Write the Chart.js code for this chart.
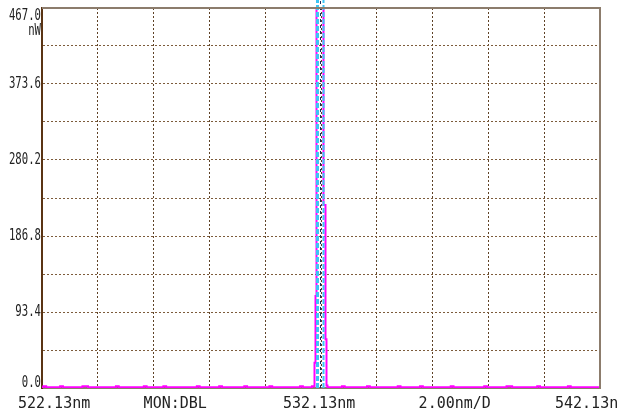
<!DOCTYPE html>
<html><head><meta charset="utf-8">
<script src="https://cdn.jsdelivr.net/npm/chart.js@4/dist/chart.umd.min.js"></script>
<style>html,body{margin:0;padding:0;background:#fff;}#wrap{width:619px;height:415px;position:relative;}</style>
</head><body><div id="wrap"><canvas id="c" width="619" height="415"></canvas></div>
<script>
// ---- data ----
const wlStart = 522.13, wlEnd = 542.13, nmPerDiv = 2.00;
const yMax = 467.0, yPerDiv = 46.7;
const yTickLabels = ['467.0', '373.6', '280.2', '186.8', '93.4', '0.0'];
const yUnit = 'nW';
const xLabels = ['522.13nm', 'MON:DBL', '532.13nm', '2.00nm/D', '542.13nm'];
const floorStep = 0.1;
const floorLeftStart = 522.13;
const floorLeft = [1,2,1,1,1,1,1,2,1,1,1,1,1,1,1,2,2,1,1,1,1,1,1,1,1,1,1,2,1,1,1,1,1,1,1,1,1,2,1,1,
                   1,1,1,1,2,1,1,1,1,1,1,1,1,1,1,1,2,1,1,1,1,1,1,1,2,1,1,1,1,1,1,1,1,2,1,1,1,1,1,1,
                   1,1,2,1,1,1,1,1,1,1,1,1,1,2,1,1,1];
const floorRightStart = 532.43;
const floorRight = [1,1,1,1,1,2,1,1,1,1,1,1,1,1,2,1,1,1,1,1,1,1,1,1,1,2,1,1,1,1,1,1,1,2,1,1,1,1,1,1,
                    1,1,1,1,2,1,1,1,1,1,1,1,1,1,1,1,2,1,1,1,1,1,1,1,2,2,1,1,1,1,1,1,1,1,1,2,1,1,1,1,
                    1,1,1,1,1,1,2,1,1,1,1,1,1,1,1,1,1,1];
const peakWl  = [531.879, 531.915, 531.951, 531.987, 532.02, 532.06, 532.10, 532.13, 532.166, 532.202, 532.237, 532.273, 532.309, 532.345, 532.38];
const peakVal = [2, 31, 113, 600, 600, 600, 600, 560, 600, 480, 225, 225, 60, 3, 1];
const markerCyan = [532.004, 532.22];
const markerBlue = 532.022;
const markerCenter = 532.112;

// ---- build ----
const trace = [];
floorLeft.forEach((v, i) => trace.push({x: floorLeftStart + i * floorStep, y: v}));
peakWl.forEach((w, i) => trace.push({x: w, y: peakVal[i]}));
floorRight.forEach((v, i) => trace.push({x: floorRightStart + i * floorStep, y: v}));

const vline = (x) => [{x: x, y: 0}, {x: x, y: yMax * 1.03}];

const xTicks = [];
for (let i = 0; i <= 10; i++) xTicks.push(wlStart + i * nmPerDiv);
const yTicks = [];
for (let i = 0; i <= 10; i++) yTicks.push(i * yPerDiv);

const textPlugin = {
  id: 'osaText',
  afterDraw(chart) {
    const ctx = chart.ctx, xs = chart.scales.x, ys = chart.scales.y, ca = chart.chartArea;
    ctx.save();
    ctx.strokeStyle = '#8c7c6c';
    ctx.lineWidth = 2;
    ctx.beginPath();
    ctx.moveTo(ca.left, ca.top); ctx.lineTo(ca.right, ca.top); ctx.lineTo(ca.right, ca.bottom);
    ctx.stroke();
    ctx.fillStyle = '#222';
    ctx.font = '15px "DejaVu Sans Mono"';
    ctx.textAlign = 'right';
    ctx.textBaseline = 'middle';
    yTickLabels.forEach((t, i) => {
      const v = yMax - i * 2 * yPerDiv;
      let py = ys.getPixelForValue(v);
      if (i === 0) py += 8;
      if (i === yTickLabels.length - 1) py -= 5;
      ctx.save();
      ctx.translate(ca.left - 1, py);
      ctx.scale(0.71, 1);
      ctx.fillText(t, 0, 0);
      if (i === 0) ctx.fillText(yUnit, 0, 15);
      ctx.restore();
    });
    ctx.font = '15px "DejaVu Sans Mono"';
    ctx.textAlign = 'left';
    ctx.textBaseline = 'alphabetic';
    const base = ca.bottom + 20;
    const pos = [xs.getPixelForValue(wlStart) - 24, xs.getPixelForValue(wlStart + 2 * nmPerDiv) - 10,
                 xs.getPixelForValue(wlStart + 5 * nmPerDiv) - 38, xs.getPixelForValue(wlStart + 7 * nmPerDiv) - 14,
                 xs.getPixelForValue(wlEnd) - 45];
    xLabels.forEach((t, i) => ctx.fillText(t, pos[i], base));
    ctx.restore();
  }
};

new Chart(document.getElementById('c'), {
  type: 'line',
  data: {
    datasets: [
      {data: vline(markerCenter), borderColor: '#1c2a5c', borderWidth: 1, borderDash: [3, 3], pointRadius: 0, clip: false, order: 1},
      {data: vline(markerCyan[0]), borderColor: '#3cc4f4', borderWidth: 3, borderDash: [5, 2], pointRadius: 0, clip: false, order: 2},
      {data: vline(markerCyan[1]), borderColor: '#3cc4f4', borderWidth: 2, borderDash: [5, 2], pointRadius: 0, clip: false, order: 2},
      {data: vline(markerBlue), borderColor: '#5a64f0', borderWidth: 2, borderDash: [4, 3], pointRadius: 0, clip: false, order: 3},
      {data: trace, borderColor: '#ff00ff', borderWidth: 2, stepped: 'middle', pointRadius: 0, order: 4}
    ]
  },
  options: {
    responsive: false,
    animation: false,
    events: [],
    layout: {padding: {left: 42, right: 19, top: 8, bottom: 27}},
    plugins: {legend: {display: false}, tooltip: {enabled: false}},
    scales: {
      x: {
        type: 'linear', min: wlStart, max: wlEnd,
        afterBuildTicks: (s) => { s.ticks = xTicks.map(v => ({value: v})); },
        ticks: {display: false},
        grid: {color: '#5e4226', lineWidth: 1, drawTicks: false, tickLength: 0},
        border: {display: true, color: '#8c7c6c', width: 2, dash: [2, 2]}
      },
      y: {
        type: 'linear', min: 0, max: yMax,
        afterBuildTicks: (s) => { s.ticks = yTicks.map(v => ({value: v})); },
        ticks: {display: false},
        grid: {color: '#7d5c3c', lineWidth: 1, drawTicks: false, tickLength: 0},
        border: {display: true, color: '#5a3414', width: 2, dash: [2, 2]}
      }
    }
  },
  plugins: [textPlugin]
});
</script></body></html>
